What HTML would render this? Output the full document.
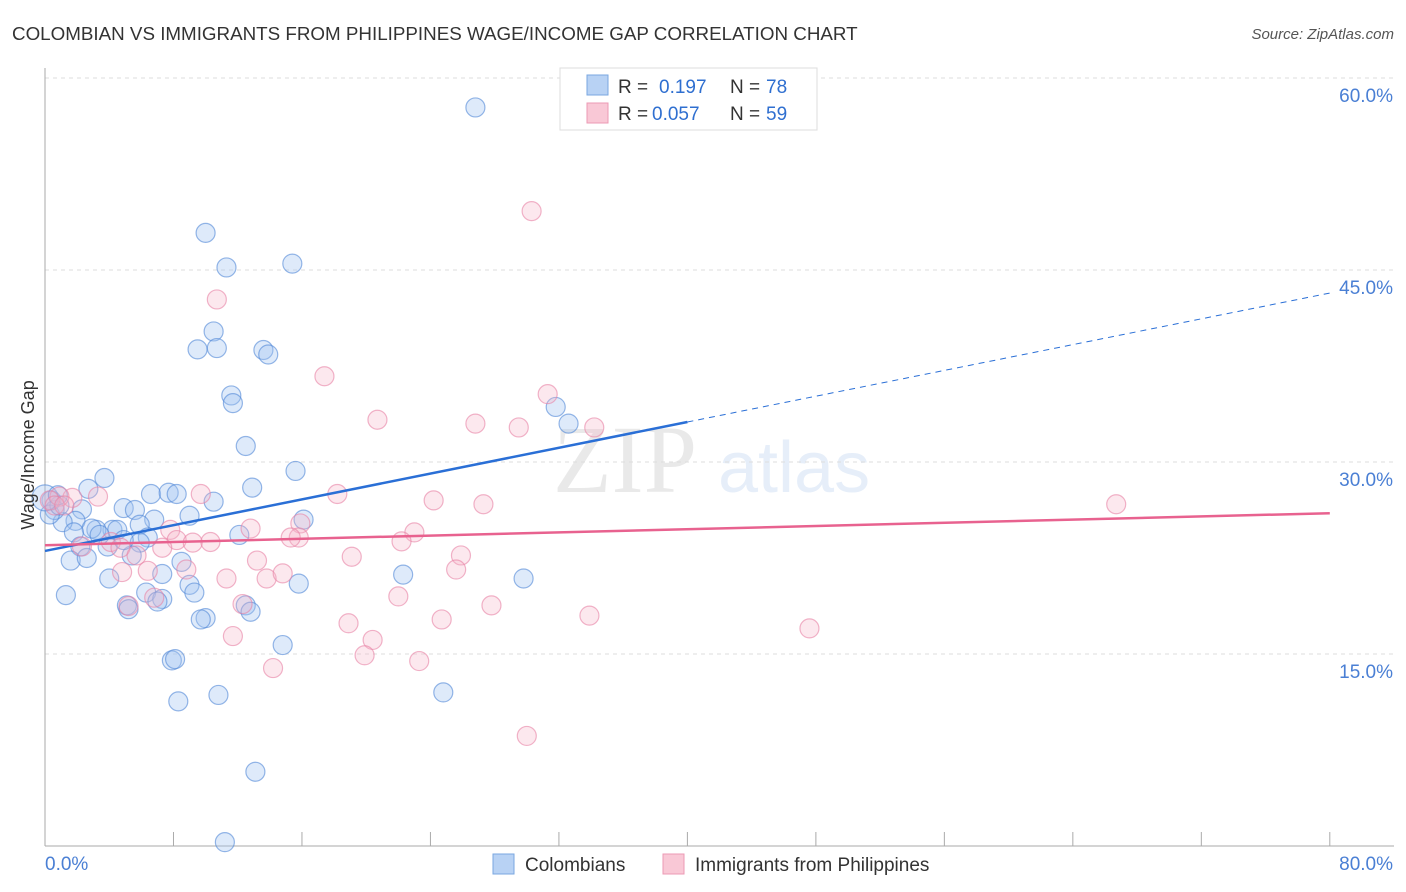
<!DOCTYPE html>
<html><head><meta charset="utf-8"><style>
body{margin:0;background:#fff;font-family:"Liberation Sans",sans-serif}
svg{display:block}
</style></head><body>
<svg id="chart" width="1406" height="892" xmlns="http://www.w3.org/2000/svg">
<text x="12" y="40" font-size="18.8" fill="#333">COLOMBIAN VS IMMIGRANTS FROM PHILIPPINES WAGE/INCOME GAP CORRELATION CHART</text>
<text x="1394" y="39" font-size="15" fill="#555" font-style="italic" text-anchor="end">Source: ZipAtlas.com</text>
<g opacity="0.18">
<text x="553" y="492" font-size="96" font-family="Liberation Serif,serif" fill="#888">ZIP</text>
<text x="718" y="492" font-size="72" fill="#7aa7e0">atlas</text>
</g>
<g id="grid"></g><g id="axes"></g><g id="pts"></g><g id="trend"></g>
<text x="34" y="455" font-size="18" fill="#333" text-anchor="middle" transform="rotate(-90 34 455)">Wage/Income Gap</text>
<text x="45" y="870" font-size="19" fill="#4a7fd4">0.0%</text>
<text x="1393" y="870" font-size="19" fill="#4a7fd4" text-anchor="end">80.0%</text>
<g>
<rect x="560" y="68" width="257" height="62" fill="#fff" stroke="#ddd"/>
<rect x="587" y="75" width="21" height="20" fill="#b8d2f4" stroke="#7aa7e0"/>
<text x="618" y="93" font-size="19" fill="#333">R = </text><text x="659" y="93" font-size="19" fill="#2f6fd0">0.197</text>
<text x="730" y="93" font-size="19" fill="#333">N = </text><text x="766" y="93" font-size="19" fill="#2f6fd0">78</text>
<rect x="587" y="103" width="21" height="20" fill="#f9c8d6" stroke="#ec9ab4"/>
<text x="618" y="120" font-size="19" fill="#333">R = </text><text x="652" y="120" font-size="19" fill="#2f6fd0">0.057</text>
<text x="730" y="120" font-size="19" fill="#333">N = </text><text x="766" y="120" font-size="19" fill="#2f6fd0">59</text>
</g>
<g>
<rect x="493" y="854" width="21" height="20" fill="#b8d2f4" stroke="#7aa7e0"/>
<text x="525" y="871" font-size="19" fill="#333">Colombians</text></g>
<g>
<rect x="663" y="854" width="21" height="20" fill="#f9c8d6" stroke="#ec9ab4"/>
<text x="695" y="871" font-size="19" fill="#333">Immigrants from Philippines</text></g>
</svg>
<script>
const blueX=[26.8,10.0,11.3,15.4,10.5,9.5,10.7,13.6,13.9,11.6,11.7,31.8,32.6,12.5,3.7,15.6,2.7,12.9,6.6,7.7,8.2,10.5,4.9,2.3,5.6,9.0,6.8,1.9,16.1,5.9,1.1,4.2,4.5,3.2,2.9,12.1,1.8,6.4,5.9,2.2,3.9,5.4,1.6,2.6,8.5,7.3,22.3,29.8,4.0,9.0,15.8,9.3,1.3,6.3,7.3,7.0,5.1,5.2,12.5,12.8,10.0,9.7,14.8,7.9,8.1,24.8,10.8,8.3,13.1,11.2,0.4,0.6,0.3,0.9,0.0,0.8,3.4,4.9];
const blueY=[57.7,47.9,45.2,45.5,40.2,38.8,38.9,38.75,38.4,35.2,34.6,34.3,33.0,31.25,28.75,29.3,27.9,28.0,27.5,27.6,27.5,26.9,26.4,26.3,26.25,25.8,25.5,25.4,25.5,25.1,25.3,24.7,24.7,24.7,24.8,24.3,24.5,24.1,23.7,23.4,23.4,22.7,22.3,22.5,22.2,21.25,21.2,20.9,20.9,20.4,20.5,19.8,19.6,19.8,19.3,19.1,18.8,18.5,18.8,18.3,17.8,17.7,15.7,14.5,14.6,12.0,11.8,11.3,5.8,0.3,27.0,26.25,25.9,26.6,27.2,27.4,24.3,23.9];
const pinkX=[30.3,10.7,17.4,31.3,20.7,26.8,29.5,34.2,24.2,27.3,18.2,66.7,9.7,3.3,1.7,0.9,15.9,7.8,12.8,15.8,15.3,23.0,22.2,8.2,9.2,10.3,7.3,4.1,4.7,19.1,25.9,2.3,13.2,5.7,8.8,4.8,6.4,13.8,14.8,11.3,25.6,22.0,27.8,33.9,6.8,5.2,12.3,18.9,24.7,47.6,11.7,20.4,19.9,23.3,14.2,30.0,0.3,0.6,1.2];
const pinkY=[49.6,42.7,36.7,35.3,33.3,33.0,32.7,32.7,27.0,26.7,27.5,26.7,27.5,27.3,27.2,27.3,25.2,24.7,24.8,24.1,24.1,24.5,23.8,23.9,23.7,23.75,23.3,23.75,23.3,22.6,22.7,23.4,22.3,22.7,21.6,21.4,21.5,20.9,21.3,20.9,21.6,19.5,18.8,18.0,19.4,18.75,18.9,17.4,17.7,17.0,16.4,16.1,14.9,14.45,13.9,8.6,27.0,26.6,26.6];
const yTicks=[15,30,45,60];
const yTickLabels=["15.0%","30.0%","45.0%","60.0%"];
const xTicks=[8,16,24,32,40,48,56,64,72,80];
const blueTrend=[23.05,43.2], blueSolidEnd=40;
const pinkTrend=[23.5,26.0];
const NS="http://www.w3.org/2000/svg";
const X=v=>45+v*16.06, Y=v=>846-v*12.8;
function mk(tag,attrs,parent){const e=document.createElementNS(NS,tag);for(const k in attrs)e.setAttribute(k,attrs[k]);document.getElementById(parent).appendChild(e);return e;}
yTicks.forEach((t,i)=>{
 const l=mk('line',{x1:45,x2:1394,y1:Y(t),y2:Y(t),stroke:'#ddd','stroke-dasharray':'4,4'},'grid');
 
 
 const tx=mk('text',{x:1393,y:Y(t)+24,'font-size':19,fill:'#4a7fd4','text-anchor':'end'},'grid');
 tx.textContent=yTickLabels[i];
 
 
});
const ax=mk('line',{x1:45,x2:45,y1:68,y2:846,stroke:'#aaa'},'axes');


const bx=mk('line',{x1:45,x2:1394,y1:846,y2:846,stroke:'#aaa'},'axes');


xTicks.forEach(t=>{
 const l=mk('line',{x1:X(t),x2:X(t),y1:832,y2:846,stroke:'#aaa'},'axes');
 
 
});
function dots(xs,ys,fill,stroke,name){
 xs.forEach((x,i)=>{
  const c=mk('circle',{cx:X(x),cy:Y(ys[i]),r:(x===0?13:9.5),fill:fill,stroke:stroke,'stroke-width':1.2},'pts');
  
  
 });
}
dots(blueX,blueY,'rgba(160,196,240,0.35)','rgba(80,135,215,0.6)','colombian-point');
dots(pinkX,pinkY,'rgba(246,178,200,0.3)','rgba(232,130,165,0.6)','philippines-point');
const by=x=>blueTrend[0]+(blueTrend[1]-blueTrend[0])*x/80;
const b1=mk('line',{x1:X(0),y1:Y(by(0)),x2:X(blueSolidEnd),y2:Y(by(blueSolidEnd)),stroke:'#2a6fd6','stroke-width':2.5},'trend');


const b2=mk('line',{x1:X(blueSolidEnd),y1:Y(by(blueSolidEnd)),x2:X(80),y2:Y(by(80)),stroke:'#2a6fd6','stroke-width':1,'stroke-dasharray':'6,5'},'trend');


const p1=mk('line',{x1:X(0),y1:Y(pinkTrend[0]),x2:X(80),y2:Y(pinkTrend[1]),stroke:'#e8628f','stroke-width':2.5},'trend');


</script>
</body></html>
